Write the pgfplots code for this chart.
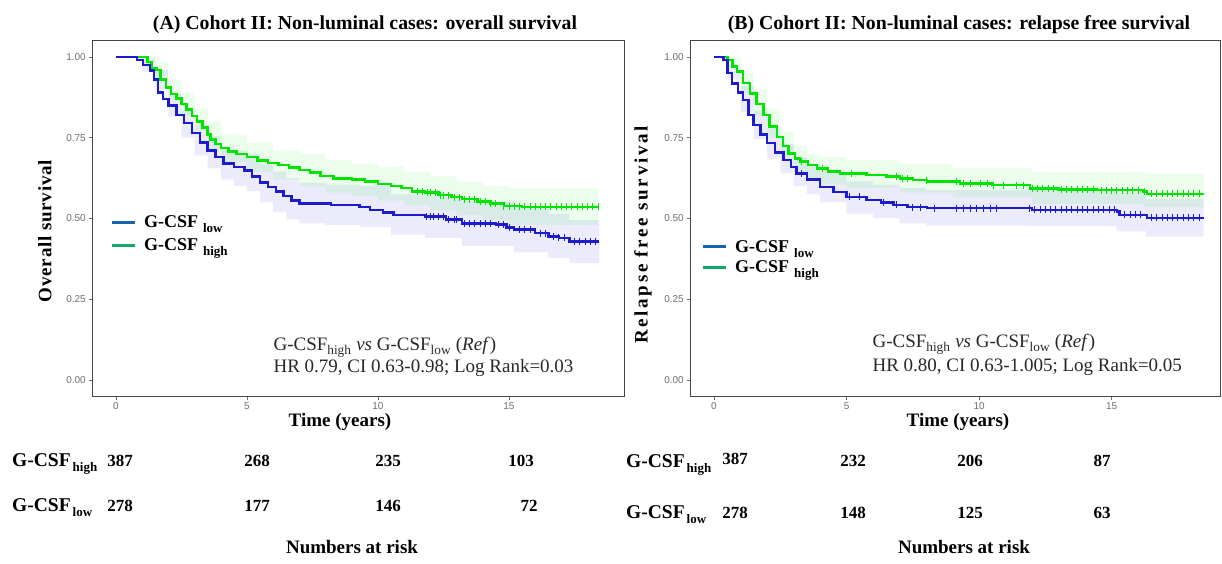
\documentclass[border=0pt]{standalone}
\usepackage{fontspec}
\setmainfont{Liberation Serif}
\newfontfamily\ticksf{Liberation Sans}
\usepackage{pgfplots}
\pgfplotsset{compat=1.18}
\usepackage{pgfplotstable}
\usepgfplotslibrary{fillbetween}
\definecolor{cblue}{RGB}{28,28,205}
\definecolor{cgreen}{RGB}{0,228,0}
\definecolor{lblue}{RGB}{24,98,172}
\definecolor{lgreen}{RGB}{18,168,104}
\definecolor{tickgray}{RGB}{110,110,110}
\definecolor{framegray}{RGB}{70,70,70}
\definecolor{txt}{RGB}{40,40,40}
\newcommand{\fs}[1]{\fontsize{#1}{#1}\selectfont}

% ---------- Panel A: overall survival ----------
\pgfplotstableread{
t S
0 1.0
1.0 1.0
1.2 0.985
1.36 0.965
1.55 0.96
1.7 0.93
1.9 0.905
2.1 0.885
2.3 0.872
2.5 0.855
2.7 0.838
2.9 0.818
3.1 0.80
3.3 0.782
3.5 0.76
3.6 0.745
3.8 0.73
4.0 0.718
4.3 0.708
4.6 0.700
5.0 0.690
5.4 0.680
5.8 0.672
6.2 0.665
6.6 0.658
7.0 0.650
7.4 0.642
7.8 0.632
8.3 0.624
9.0 0.620
9.5 0.615
10.0 0.607
10.5 0.600
10.9 0.595
11.3 0.583
11.8 0.580
12.3 0.572
12.8 0.566
13.2 0.560
13.8 0.553
14.3 0.546
14.8 0.538
15.5 0.536
18.4 0.536
}\osHigh
\pgfplotstableread{
t S
0 1.0
0.6 1.0
0.8 0.99
1.04 0.975
1.3 0.958
1.45 0.93
1.6 0.89
1.8 0.87
2.0 0.85
2.3 0.82
2.6 0.795
2.9 0.765
3.2 0.735
3.5 0.71
3.8 0.69
4.1 0.67
4.5 0.66
4.9 0.648
5.2 0.630
5.5 0.612
5.8 0.597
6.1 0.583
6.4 0.570
6.7 0.555
7.0 0.547
8.2 0.542
9.3 0.536
9.7 0.526
10.2 0.518
10.6 0.511
11.8 0.506
12.6 0.497
13.2 0.485
14.5 0.482
14.9 0.472
15.2 0.466
16.0 0.455
16.5 0.444
16.9 0.44
17.3 0.428
18.45 0.428
}\osLow
\pgfplotstableread{
t lo hi
0 1.0 1.0
1.0 0.955 0.995
1.5 0.90 0.96
2.0 0.815 0.885
2.5 0.75 0.835
3.0 0.695 0.79
3.5 0.655 0.755
4.0 0.62 0.72
4.5 0.60 0.71
5.0 0.585 0.70
5.5 0.55 0.67
6.0 0.52 0.645
6.5 0.497 0.625
7.0 0.485 0.61
8.0 0.48 0.605
9.3 0.473 0.60
10.5 0.45 0.575
11.8 0.44 0.57
13.2 0.415 0.555
15.2 0.395 0.537
16.5 0.378 0.515
17.3 0.362 0.495
18.45 0.362 0.495
}\osLowBand
\pgfplotstableread{
t lo hi
0 1.0 1.0
1.0 0.985 1.0
1.5 0.94 0.985
2.0 0.87 0.93
2.5 0.82 0.89
3.0 0.77 0.84
3.5 0.715 0.80
4.0 0.675 0.76
5.0 0.645 0.735
6.0 0.62 0.71
7.0 0.60 0.70
8.0 0.58 0.68
9.0 0.57 0.67
10.0 0.555 0.66
11.0 0.54 0.645
12.0 0.525 0.63
13.0 0.51 0.615
14.0 0.495 0.60
15.0 0.48 0.594
18.4 0.48 0.594
}\osHighBand

% ---------- Panel B: relapse free survival ----------
\pgfplotstableread{
t S
0 1.0
0.3 1.0
0.5 0.99
0.7 0.97
0.86 0.955
1.1 0.92
1.36 0.887
1.6 0.855
1.86 0.82
2.1 0.785
2.37 0.753
2.6 0.725
2.81 0.701
3.05 0.685
3.25 0.676
3.55 0.665
3.88 0.655
4.3 0.645
4.75 0.640
5.76 0.635
6.5 0.630
7.02 0.624
7.5 0.619
8.03 0.614
9.28 0.609
10.5 0.603
11.92 0.593
13.0 0.590
14.44 0.588
16.2 0.583
16.33 0.576
18.47 0.576
}\rfsHigh
\pgfplotstableread{
t S
0 1.0
0.2 1.0
0.35 0.99
0.5 0.95
0.67 0.918
0.9 0.89
1.1 0.867
1.3 0.82
1.48 0.789
1.75 0.76
1.99 0.733
2.3 0.705
2.62 0.681
2.9 0.66
3.12 0.640
3.5 0.62
4.0 0.598
4.5 0.582
5.0 0.567
5.76 0.557
6.3 0.55
6.77 0.542
7.3 0.535
8.03 0.532
12.0 0.527
15.2 0.522
15.3 0.511
16.33 0.502
18.47 0.502
}\rfsLow
\pgfplotstableread{
t lo hi
0 1.0 1.0
0.5 0.93 0.975
1.0 0.83 0.91
1.5 0.745 0.835
2.0 0.685 0.78
2.5 0.64 0.73
3.0 0.60 0.69
3.5 0.575 0.665
4.0 0.55 0.645
5.0 0.515 0.615
6.0 0.50 0.605
7.0 0.485 0.595
8.0 0.478 0.588
11.8 0.476 0.588
15.2 0.46 0.58
16.3 0.444 0.56
18.47 0.444 0.56
}\rfsLowBand
\pgfplotstableread{
t lo hi
0 1.0 1.0
0.5 0.975 1.0
1.0 0.89 0.95
1.5 0.82 0.90
2.0 0.755 0.84
2.5 0.69 0.77
3.0 0.645 0.725
3.5 0.62 0.70
4.0 0.605 0.69
5.0 0.595 0.68
7.0 0.58 0.67
9.0 0.565 0.655
12.0 0.545 0.645
16.2 0.535 0.64
18.47 0.515 0.64
}\rfsHighBand

\pgfplotsset{kmaxis/.style={
  scale only axis, height=356pt,
  ymin=-0.0526, ymax=1.0495,
  xtick={0,5,10,15}, xticklabels={0,5,10,15},
  ytick={0,0.25,0.5,0.75,1}, yticklabels={0.00,0.25,0.50,0.75,1.00},
  tick align=outside, tick pos=left, major tick length=3pt,
  tick style={draw=tickgray, line width=0.8pt},
  ticklabel style={font=\ticksf\fs{10}, text=tickgray},
  xticklabel style={inner sep=0.5pt, yshift=-2pt},
  yticklabel style={inner sep=0.5pt, xshift=-2.5pt},
  axis line style={draw=framegray, line width=1pt},
  legend image code/.code={\draw[##1, line width=3pt] (0pt,0pt) -- (23pt,0pt);},
  legend style={draw=none, fill=none, font=\bfseries\fs{18}, row sep=5pt, anchor=north west},
  legend cell align=left,
}}
\pgfplotsset{
  cens/.style={only marks, mark=|, mark size=3.5pt, mark options={line width=0.9pt}, forget plot},
}

\begin{document}
\begin{tikzpicture}[x=1pt,y=1pt]
\path (0,0) rectangle (1222,564);

% ================= Panel A =================
\begin{axis}[kmaxis, at={(92pt,167pt)}, anchor=south west, width=532pt,
  xmin=-0.916, xmax=19.39,
  legend style={at={(axis description cs:0.028,0.52)}}]
\addlegendimage{color=lblue}
\addlegendentry{\hspace{6pt}G-CSF\hspace{5pt}\raisebox{-5pt}{\fs{13}low}}
\addlegendimage{color=lgreen}
\addlegendentry{\hspace{6pt}G-CSF\hspace{5pt}\raisebox{-5pt}{\fs{13}high}}
\addplot[name path=alo, draw=none, const plot, forget plot] table[x=t,y=lo]{\osLowBand};
\addplot[name path=ahi, draw=none, const plot, forget plot] table[x=t,y=hi]{\osLowBand};
\addplot[fill=cblue, fill opacity=0.085, draw=none, forget plot] fill between[of=alo and ahi];
\addplot[name path=blo, draw=none, const plot, forget plot] table[x=t,y=lo]{\osHighBand};
\addplot[name path=bhi, draw=none, const plot, forget plot] table[x=t,y=hi]{\osHighBand};
\addplot[fill=cgreen, fill opacity=0.08, draw=none, forget plot] fill between[of=blo and bhi];
\addplot[const plot, color=cgreen, line width=2.5pt, forget plot] table[x=t,y=S]{\osHigh};
\addplot[const plot, color=cblue, line width=2.5pt, forget plot] table[x=t,y=S]{\osLow};
\addplot[cens, color=cgreen] coordinates {
(11.5,0.583)(11.7,0.583)(11.9,0.580)(12.0,0.580)(12.2,0.580)(12.4,0.572)(12.5,0.572)(12.7,0.572)
(12.9,0.566)(13.1,0.566)(13.3,0.560)(13.5,0.560)(13.7,0.560)(13.9,0.553)(14.1,0.553)(14.3,0.546)
(14.5,0.546)(14.8,0.538)(15.0,0.538)(15.2,0.538)(15.4,0.538)(15.6,0.536)(15.8,0.536)(16.0,0.536)
(16.2,0.536)(16.4,0.536)(16.6,0.536)(16.8,0.536)(17.0,0.536)(17.2,0.536)(17.4,0.536)(17.6,0.536)
(17.8,0.536)(18.0,0.536)(18.2,0.536)(18.4,0.536)};
\addplot[cens, color=cblue] coordinates {
(11.85,0.506)(12.0,0.506)(12.1,0.506)(12.3,0.506)(12.5,0.506)(12.7,0.497)(12.9,0.497)(13.0,0.497)
(13.3,0.485)(13.5,0.485)(13.7,0.485)(13.9,0.485)(14.1,0.485)(14.3,0.485)(14.6,0.482)(14.8,0.482)
(15.0,0.472)(15.4,0.466)(15.6,0.466)(15.8,0.466)(16.2,0.455)(16.4,0.455)(16.7,0.444)(16.9,0.44)
(17.1,0.44)(17.5,0.428)(17.7,0.428)(17.9,0.428)(18.1,0.428)(18.3,0.428)};
\end{axis}

% ================= Panel B =================
\begin{axis}[kmaxis, at={(690pt,167pt)}, anchor=south west, width=530pt,
  xmin=-0.906, xmax=19.09,
  legend style={at={(axis description cs:0.015,0.452)}, row sep=3pt}]
\addlegendimage{color=lblue}
\addlegendentry{\hspace{6pt}G-CSF\hspace{5pt}\raisebox{-5pt}{\fs{13}low}}
\addlegendimage{color=lgreen}
\addlegendentry{\hspace{6pt}G-CSF\hspace{5pt}\raisebox{-5pt}{\fs{13}high}}
\addplot[name path=clo, draw=none, const plot, forget plot] table[x=t,y=lo]{\rfsLowBand};
\addplot[name path=chi, draw=none, const plot, forget plot] table[x=t,y=hi]{\rfsLowBand};
\addplot[fill=cblue, fill opacity=0.085, draw=none, forget plot] fill between[of=clo and chi];
\addplot[name path=dlo, draw=none, const plot, forget plot] table[x=t,y=lo]{\rfsHighBand};
\addplot[name path=dhi, draw=none, const plot, forget plot] table[x=t,y=hi]{\rfsHighBand};
\addplot[fill=cgreen, fill opacity=0.08, draw=none, forget plot] fill between[of=dlo and dhi];
\addplot[const plot, color=cgreen, line width=2.5pt, forget plot] table[x=t,y=S]{\rfsHigh};
\addplot[const plot, color=cblue, line width=2.5pt, forget plot] table[x=t,y=S]{\rfsLow};
\addplot[cens, color=cgreen] coordinates {
(3.3,0.676)(4.1,0.655)(5.2,0.640)(6.9,0.630)(7.1,0.624)(7.3,0.624)(8.0,0.619)(9.16,0.614)
(9.41,0.609)(9.66,0.609)(10.04,0.609)(10.3,0.609)(10.55,0.603)(10.92,0.603)(11.42,0.603)(11.67,0.603)
(12.0,0.593)(12.2,0.593)(12.4,0.593)(12.6,0.593)(12.8,0.593)(13.1,0.590)(13.3,0.590)(13.5,0.590)
(13.7,0.590)(13.9,0.590)(14.1,0.590)(14.3,0.590)(14.6,0.588)(14.8,0.588)(15.0,0.588)(15.2,0.588)
(15.4,0.588)(15.6,0.588)(15.8,0.588)(16.0,0.588)(16.25,0.583)(16.5,0.576)(16.7,0.576)(16.9,0.576)
(17.1,0.576)(17.3,0.576)(17.5,0.576)(17.7,0.576)(17.9,0.576)(18.1,0.576)(18.3,0.576)};
\addplot[cens, color=cblue] coordinates {
(3.3,0.64)(5.1,0.567)(5.5,0.567)(6.4,0.55)(6.9,0.542)(7.5,0.535)(7.8,0.535)(8.3,0.532)
(9.16,0.532)(9.41,0.532)(9.66,0.532)(9.9,0.532)(10.17,0.532)(10.42,0.532)(10.67,0.532)(11.9,0.532)
(12.1,0.527)(12.3,0.527)(12.5,0.527)(12.7,0.527)(12.9,0.527)(13.1,0.527)(13.3,0.527)(13.5,0.527)
(13.7,0.527)(13.9,0.527)(14.1,0.527)(14.3,0.527)(14.5,0.527)(14.7,0.527)(14.9,0.527)(15.1,0.527)
(15.5,0.511)(15.7,0.511)(15.9,0.511)(16.1,0.511)(16.5,0.502)(16.7,0.502)(16.9,0.502)(17.1,0.502)
(17.3,0.502)(17.5,0.502)(17.7,0.502)(17.9,0.502)(18.1,0.502)(18.3,0.502)};
\end{axis}

% ================= Titles and labels =================
\node[anchor=base, font=\bfseries\fs{19.8}] at (365,534) {(A) Cohort II: Non-luminal cases: overall survival};
\node[anchor=base, font=\bfseries\fs{19.8}] at (959,534) {(B) Cohort II: Non-luminal cases: relapse free survival};
\node[rotate=90, font=\bfseries\fs{19}\addfontfeatures{LetterSpace=4}] at (45,333) {Overall survival};
\node[rotate=90, font=\bfseries\fs{19}\addfontfeatures{LetterSpace=14}] at (643,329) {Relapse free survival};
\node[anchor=base, inner sep=0pt, font=\bfseries\fs{19}] at (340,137) {Time (years)};
\node[anchor=base, inner sep=0pt, font=\bfseries\fs{19}] at (958,137) {Time (years)};

% annotations
\node[anchor=base west, font=\fs{19}, text=txt] at (270,213) {G-CSF\textsubscript{high} \textit{vs} G-CSF\textsubscript{low} (\textit{Ref})};
\node[anchor=base west, font=\fs{19}, text=txt] at (270,191) {HR 0.79, CI 0.63-0.98; Log Rank=0.03};
\node[anchor=base west, font=\fs{19}, text=txt] at (869,216) {G-CSF\textsubscript{high} \textit{vs} G-CSF\textsubscript{low} (\textit{Ref})};
\node[anchor=base west, font=\fs{19}, text=txt] at (869,192) {HR 0.80, CI 0.63-1.005; Log Rank=0.05};

% numbers at risk
\begin{scope}[every node/.style={font=\bfseries\fs{17}, anchor=base, inner sep=0pt}]
\node[anchor=base west, font=\bfseries\fs{19.5}] at (12,97) {G-CSF\hspace{2pt}\raisebox{-5pt}{\fs{13}high}};
\node[anchor=base west, font=\bfseries\fs{19.5}] at (12,52) {G-CSF\hspace{2pt}\raisebox{-5pt}{\fs{13}low}};
\node at (120,97) {387}; \node at (257,97) {268}; \node at (388,97) {235}; \node at (521,97) {103};
\node at (120,52) {278}; \node at (257,52) {177}; \node at (388,52) {146}; \node at (529,52) {72};
\node[anchor=base west, font=\bfseries\fs{19.5}] at (626,96) {G-CSF\hspace{2pt}\raisebox{-5pt}{\fs{13}high}};
\node[anchor=base west, font=\bfseries\fs{19.5}] at (626,45) {G-CSF\hspace{2pt}\raisebox{-5pt}{\fs{13}low}};
\node at (735,99) {387}; \node at (853,97) {232}; \node at (970,97) {206}; \node at (1102,97) {87};
\node at (735,45) {278}; \node at (853,45) {148}; \node at (970,45) {125}; \node at (1102,45) {63};
\end{scope}
\node[font=\bfseries\fs{19}] at (352,17) {Numbers at risk};
\node[font=\bfseries\fs{19}] at (964,17) {Numbers at risk};
\end{tikzpicture}
\end{document}
